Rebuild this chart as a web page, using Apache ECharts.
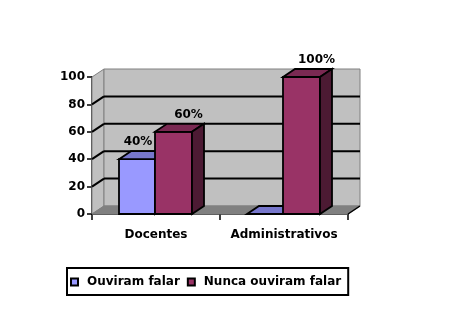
<!DOCTYPE html>
<html>
<head>
<meta charset="utf-8">
<script src="https://cdn.jsdelivr.net/npm/echarts@6/dist/echarts.min.js"></script>
<style>
  html, body { margin: 0; padding: 0; background: #fff; }
  #chart { width: 470px; height: 322px; }
</style>
</head>
<body>
<div id="chart"></div>
<script>
const categories = ['Docentes', 'Administrativos'];
const seriesNames = ['Ouviram falar', 'Nunca ouviram falar'];
const ouviramFalar = [40, 0];
const nuncaOuviramFalar = [60, 100];
const yMin = 0, yMax = 100, yStep = 20;

const FONT = '"DejaVu Sans", Verdana, sans-serif';
const DX = 12, DY = -8;

function wallItem(params, api) {
  const cs = params.coordSys;
  const gx = cs.x, gy = cs.y, gw = cs.width, gh = cs.height;
  const by = gy + gh;
  const children = [];
  children.push({ type: 'polygon', shape: { points: [[gx, by], [gx, gy], [gx + DX, gy + DY], [gx + DX, by + DY]] },
    style: { fill: '#C0C0C0', stroke: '#808080', lineWidth: 1 } });
  children.push({ type: 'rect', shape: { x: gx + DX, y: gy + DY, width: gw, height: gh },
    style: { fill: '#C0C0C0', stroke: '#808080', lineWidth: 1 } });
  children.push({ type: 'polygon', shape: { points: [[gx, by], [gx + gw, by], [gx + gw + DX, by + DY], [gx + DX, by + DY]] },
    style: { fill: '#808080', stroke: '#808080', lineWidth: 1 } });
  children.push({ type: 'line', shape: { x1: gx + gw, y1: by, x2: gx + gw + DX, y2: by + DY },
    style: { stroke: '#000', lineWidth: 1.5 } });
  for (let v = yMin + yStep; v < yMax; v += yStep) {
    const y = api.coord([0, v])[1];
    children.push({ type: 'line', shape: { x1: gx + DX, y1: y + DY, x2: gx + gw + DX, y2: y + DY },
      style: { stroke: '#000', lineWidth: 2 } });
    children.push({ type: 'line', shape: { x1: gx, y1: y, x2: gx + DX, y2: y + DY },
      style: { stroke: '#000', lineWidth: 2 } });
  }
  return { type: 'group', children };
}

function barRenderer(front, top, side, offL, offR, labelDx) {
  return function (params, api) {
    const ci = api.value(0), v = api.value(1);
    const pt = api.coord([ci, v]);
    const pb = api.coord([ci, 0]);
    const c = pt[0];
    const x0 = c + offL, x1 = c + offR;
    const yt = pt[1], yb = pb[1];
    const lw = 1.8;
    const children = [
      { type: 'rect', shape: { x: x0, y: yt, width: x1 - x0, height: yb - yt },
        style: { fill: front, stroke: '#000', lineWidth: lw } },
      { type: 'polygon', shape: { points: [[x0, yt], [x0 + DX, yt + DY], [x1 + DX, yt + DY], [x1, yt]] },
        style: { fill: top, stroke: '#000', lineWidth: lw } },
      { type: 'polygon', shape: { points: [[x1, yt], [x1 + DX, yt + DY], [x1 + DX, yb + DY], [x1, yb]] },
        style: { fill: side, stroke: '#000', lineWidth: lw } }
    ];
    if (v > 0) {
      children.push({ type: 'text', style: {
        text: v + '%', x: (x0 + x1) / 2 + labelDx, y: yt + DY - 9,
        align: 'center', verticalAlign: 'middle',
        font: 'bold 12px ' + FONT, fill: '#000' } });
    }
    return { type: 'group', children };
  };
}

const chart = echarts.init(document.getElementById('chart'), null, { renderer: 'canvas' });
chart.setOption({
  animation: false,
  backgroundColor: '#fff',
  grid: { left: 92, top: 77, width: 256, height: 137 },
  legend: {
    data: seriesNames,
    icon: 'rect',
    left: 67, top: 268,
    padding: [8, 7, 7, 3],
    itemGap: 7, itemWidth: 7, itemHeight: 7,
    borderColor: '#000', borderWidth: 2, backgroundColor: '#fff',
    textStyle: { fontFamily: FONT, fontWeight: 'bold', fontSize: 12, color: '#000', padding: [0, 0, 0, 4] }
  },
  xAxis: {
    type: 'category', data: categories,
    axisLine: { lineStyle: { color: '#000', width: 1.5 } },
    axisTick: { show: true, length: 6, lineStyle: { color: '#000', width: 1.5 } },
    axisLabel: { interval: 0, color: '#000', fontFamily: FONT, fontWeight: 'bold', fontSize: 12, margin: 15 },
    splitLine: { show: false }
  },
  yAxis: {
    type: 'value', min: yMin, max: yMax, interval: yStep,
    axisLine: { show: true, lineStyle: { color: '#000', width: 1.5 } },
    axisTick: { show: true, length: 5, lineStyle: { color: '#000', width: 1.5 } },
    axisLabel: { color: '#000', fontFamily: FONT, fontWeight: 'bold', fontSize: 12, margin: 7 },
    splitLine: { show: false }
  },
  series: [
    { type: 'custom', name: 'wall', z: 1, silent: true, renderItem: wallItem, data: [[0, 0]] },
    { type: 'custom', name: seriesNames[0], z: 2,
      itemStyle: { color: '#9999FF', borderColor: '#000', borderWidth: 1.5 },
      renderItem: barRenderer('#9999FF', '#7777CC', '#4D4D80', -37, -1, 1),
      encode: { x: 0, y: 1 },
      data: ouviramFalar.map((v, i) => [i, v]) },
    { type: 'custom', name: seriesNames[1], z: 3,
      itemStyle: { color: '#993366', borderColor: '#000', borderWidth: 1.5 },
      renderItem: barRenderer('#993366', '#7A2952', '#4C1A33', -1, 36, 15),
      encode: { x: 0, y: 1 },
      data: nuncaOuviramFalar.map((v, i) => [i, v]) }
  ]
});
</script>
</body>
</html>
